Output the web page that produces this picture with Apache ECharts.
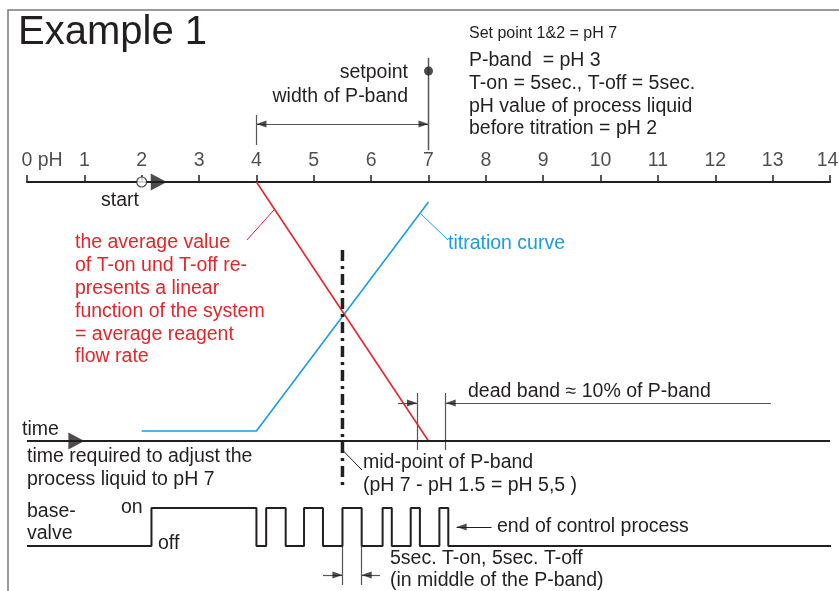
<!DOCTYPE html>
<html>
<head>
<meta charset="utf-8">
<script src="https://cdn.jsdelivr.net/npm/echarts@6/dist/echarts.min.js"></script>
<style>
html, body {margin: 0; background: #fff;}
#chart {width: 839px; height: 591px;}
</style>
</head>
<body>
<div id="chart"></div>
<script>
// x = pH on the top scale, y = drawing row (px below the pH scale)
const phTicks = [0, 1, 2, 3, 4, 5, 6, 7, 8, 9, 10, 11, 12, 13, 14];
const phAxisLabels = ['0 pH', '1', '2', '3', '4', '5', '6', '7', '8', '9', '10', '11', '12', '13', '14'];
const titrationCurve = [[2, 249], [4, 249], [7, 20]];
const averageFlow = [[4, 0], [7, 259]];
const timeAxis = [[0, 259], [14, 259]];
const midPointLine = [[5.5, 68], [5.5, 306]];
const setpointLine = [[7, -124], [7, -32]];
const setpointDot = [[7, -111]];
const startPoint = [[2, 0]];

// base valve: switching points (pH positions along time), off/on rows
const valveEdges = [2.17, 4.0, 4.17, 4.51, 4.83, 5.16, 5.5, 5.835, 6.2, 6.36, 6.69, 6.85, 7.19, 7.345];
const valveLevels = [364, 326];
const valveEnd = 14.16;

// dimension and callout lines
const dimLines = [
    [[4, -67], [4, -37]], [[4, -58], [7, -58]],
    [[6.80, 211], [6.80, 268]], [[7.30, 211], [7.30, 268]],
    [[6.47, 221], [6.80, 221]], [[7.30, 221], [12.97, 221]],
    [[5.5, 364], [5.5, 403]], [[5.835, 364], [5.835, 403]],
    [[5.16, 393], [5.5, 393]], [[5.835, 393], [6.155, 393]]
];
const redCallout = [[[4.32, 27], [3.835, 58]]];
const blueCallout = [[[6.87, 32], [7.34, 58]]];
const inkCallouts = [[[5.5, 268], [5.84, 288]], [[7.49, 345], [8.10, 345]]];

// arrow heads: [tip x, y, direction, kind]
const arrowHeads = [
    [2.436, 0, 'right', 'big'],
    [1.0, 259, 'right', 'big'],
    [4, -58, 'left', 'small'],
    [7, -58, 'right', 'small'],
    [6.80, 221, 'right', 'small'],
    [7.30, 221, 'left', 'small'],
    [5.5, 393, 'right', 'small'],
    [5.835, 393, 'left', 'small'],
    [7.49, 345, 'left', 'small']
];

const INK = '#231f20', RED = '#e2262b', BLUE = '#1a9de0', GREY = '#555555';
const FONT = "'Liberation Sans', Arial, sans-serif";
const arrowSize = {big: [17, 16], small: [7, 10]};

function valvePath() {
    let level = 0;
    const pts = [[0, valveLevels[0]]];
    valveEdges.forEach(x => {
        pts.push([x, valveLevels[level]]);
        level = 1 - level;
        pts.push([x, valveLevels[level]]);
    });
    pts.push([valveEnd, valveLevels[level]]);
    return pts;
}

function line(data, color, width, extra) {
    return Object.assign({
        type: 'line', data, symbol: 'none', silent: true, animation: false,
        lineStyle: {color, width}
    }, extra || {});
}

function segments(list, color, width) {
    return {
        type: 'lines', coordinateSystem: 'cartesian2d', silent: true, animation: false,
        lineStyle: {color, width, opacity: 1},
        data: list.map(c => ({coords: c}))
    };
}

function txt(text, x, baseline, size, color, align) {
    return {
        type: 'text', silent: true,
        style: {
            text, x, y: baseline - 0.3465 * size,
            font: size + 'px ' + FONT, fill: color || INK,
            align: align || 'left', verticalAlign: 'middle'
        }
    };
}

const chart = echarts.init(document.getElementById('chart'), null, {renderer: 'canvas'});

chart.setOption({
    backgroundColor: '#fff',
    animation: false,
    grid: {left: 27, right: 9, top: 0, bottom: 0, containLabel: false, outerBoundsMode: 'none'},
    xAxis: {
        type: 'value', min: 0, max: 14, interval: 1, position: 'top',
        axisLine: {onZero: true, lineStyle: {color: INK, width: 2}},
        axisTick: {length: 7, lineStyle: {color: INK, width: 1.5}},
        axisLabel: {show: false},
        splitLine: {show: false}
    },
    yAxis: {type: 'value', min: -182, max: 409, inverse: true, show: false},
    series: [
        line(titrationCurve, BLUE, 1.6),
        line(averageFlow, RED, 1.6),
        line(timeAxis, INK, 2),
        line(valvePath(), INK, 2, {clip: false}),
        line(midPointLine, INK, 3.5, {lineStyle: {color: INK, width: 3.5, type: [11, 5, 3, 5]}}),
        line(setpointLine, GREY, 1.5),
        segments(dimLines, GREY, 1.2),
        segments(redCallout, RED, 1),
        segments(blueCallout, BLUE, 1),
        segments(inkCallouts, INK, 1),
        {
            // pH scale labels
            type: 'scatter', silent: true, animation: false, z: 4,
            symbol: 'circle', symbolSize: 1,
            itemStyle: {color: 'rgba(0,0,0,0)'},
            label: {
                show: true, position: 'top', distance: 11,
                color: INK, fontSize: 19.5, fontFamily: FONT,
                formatter: p => phAxisLabels[p.dataIndex]
            },
            data: phTicks.map((v, i) => {
                if (i === 0) return {value: [v, 0], label: {align: 'left', offset: [-5.5, 0]}};
                if (i === phTicks.length - 1) return {value: [v, 0], label: {offset: [-2.5, 0]}};
                return {value: [v, 0]};
            })
        },
        {
            type: 'scatter', silent: true, animation: false, z: 5,
            data: arrowHeads.map(([x, y, dir, kind]) => {
                const [base, len] = arrowSize[kind];
                return {
                    value: [x, y],
                    symbol: 'triangle',
                    symbolSize: [base, len],
                    symbolRotate: dir === 'right' ? -90 : 90,
                    symbolOffset: [dir === 'right' ? -len / 2 : len / 2, 0]
                };
            }),
            itemStyle: {color: INK}
        },
        {
            type: 'scatter', silent: true, animation: false, z: 6,
            data: startPoint, symbol: 'circle', symbolSize: 10,
            itemStyle: {color: '#fff', borderColor: INK, borderWidth: 1.2}
        },
        {
            type: 'scatter', silent: true, animation: false, z: 6,
            data: setpointDot, symbol: 'circle', symbolSize: 9,
            itemStyle: {color: INK}
        }
    ],
    graphic: [
        {
            type: 'polyline', silent: true,
            shape: {points: [[8, 591], [8, 10], [839, 10]]},
            style: {stroke: '#7a7a7a', lineWidth: 1.5, fill: null}
        },
        txt('Example 1', 18, 47, 40),
        txt('setpoint', 408, 79, 19.5, INK, 'right'),
        txt('width of P-band', 408, 103, 19.5, INK, 'right'),
        txt('Set point 1&2 = pH 7', 469, 39, 16),
        txt('P-band  = pH 3', 469, 67.5, 19.5),
        txt('T-on = 5sec., T-off = 5sec.', 469, 90.5, 19.5),
        txt('pH value of process liquid', 469, 113, 19.5),
        txt('before titration = pH 2', 469, 135.5, 19.5),
        txt('start', 101, 207, 19.5),
        txt('the average value', 75, 249, 19.5, RED),
        txt('of T-on und T-off re-', 75, 272, 19.5, RED),
        txt('presents a linear', 75, 295, 19.5, RED),
        txt('function of the system', 75, 318, 19.5, RED),
        txt('= average reagent', 75, 341, 19.5, RED),
        txt('flow rate', 75, 363, 19.5, RED),
        txt('titration curve', 448, 250, 19.5, BLUE),
        txt('time', 22, 436, 19.5),
        txt('time required to adjust the', 27, 463, 19.5),
        txt('process liquid to pH 7', 27, 486, 19.5),
        txt('base-', 27, 518, 19.5),
        txt('valve', 27, 540, 19.5),
        txt('on', 121, 514, 19.5),
        txt('off', 158, 550, 19.5),
        txt('mid-point of P-band', 363, 469, 19.5),
        txt('(pH 7 - pH 1.5 = pH 5,5 )', 363, 492, 19.5),
        txt('dead band \u2248 10% of P-band', 468, 398, 19.5),
        txt('end of control process', 497, 533, 19.5),
        txt('5sec. T-on, 5sec. T-off', 390, 565, 19.5),
        txt('(in middle of the P-band)', 390, 587, 19.5)
    ]
});
</script>
</body>
</html>
